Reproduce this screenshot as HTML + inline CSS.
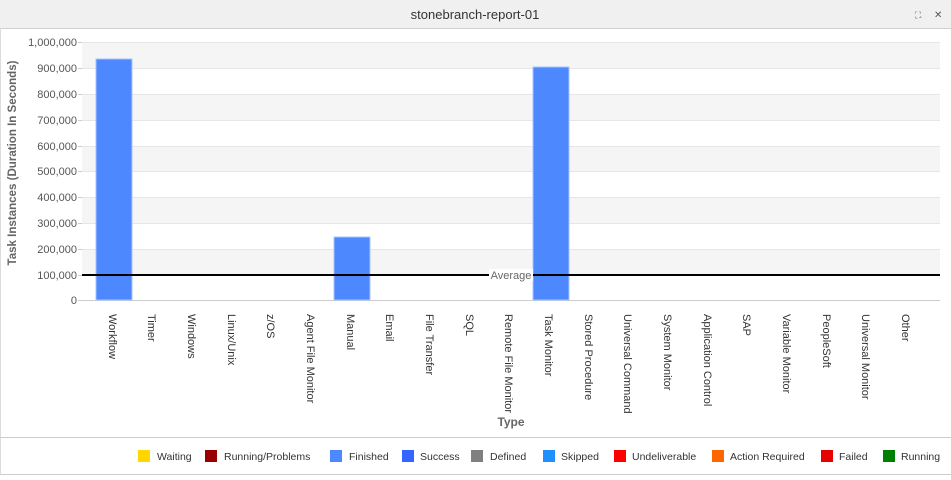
<!DOCTYPE html>
<html><head><meta charset="utf-8"><style>
html,body{margin:0;padding:0;background:#fff;}
body{width:951px;height:475px;overflow:hidden;font-family:"Liberation Sans",sans-serif;}
</style></head><body>
<svg width="951" height="475" xmlns="http://www.w3.org/2000/svg" font-family="Liberation Sans, sans-serif">
<rect x="0" y="0" width="951" height="28" fill="#f0f0f0"/>
<line x1="0" y1="28.5" x2="951" y2="28.5" stroke="#cfcfcf"/>
<line x1="0.5" y1="28" x2="0.5" y2="475" stroke="#dcdcdc"/>
<text x="475" y="19" text-anchor="middle" font-size="13" fill="#333">stonebranch-report-01</text>
<text x="915" y="18" font-size="9" fill="#555">⛶</text>
<text x="934" y="18" font-size="10" fill="#555">✕</text>
<g fill="#f5f5f5">
<rect x="82" y="42" width="858" height="26"/>
<rect x="82" y="94" width="858" height="26"/>
<rect x="82" y="146" width="858" height="25"/>
<rect x="82" y="197" width="858" height="26"/>
<rect x="82" y="249" width="858" height="26"/>
</g>
<g stroke="#e6e6e6">
<line x1="82" y1="42.5" x2="940" y2="42.5"/><line x1="82" y1="68.5" x2="940" y2="68.5"/>
<line x1="82" y1="94.5" x2="940" y2="94.5"/><line x1="82" y1="120.5" x2="940" y2="120.5"/>
<line x1="82" y1="146.5" x2="940" y2="146.5"/><line x1="82" y1="171.5" x2="940" y2="171.5"/>
<line x1="82" y1="197.5" x2="940" y2="197.5"/><line x1="82" y1="223.5" x2="940" y2="223.5"/>
<line x1="82" y1="249.5" x2="940" y2="249.5"/>
</g>
<g stroke="#ccc">
<line x1="78" y1="42.5" x2="82" y2="42.5"/><line x1="78" y1="68.5" x2="82" y2="68.5"/>
<line x1="78" y1="94.5" x2="82" y2="94.5"/><line x1="78" y1="120.5" x2="82" y2="120.5"/>
<line x1="78" y1="146.5" x2="82" y2="146.5"/><line x1="78" y1="171.5" x2="82" y2="171.5"/>
<line x1="78" y1="197.5" x2="82" y2="197.5"/><line x1="78" y1="223.5" x2="82" y2="223.5"/>
<line x1="78" y1="249.5" x2="82" y2="249.5"/><line x1="78" y1="275.5" x2="82" y2="275.5"/>
<line x1="78" y1="300.5" x2="940" y2="300.5"/>
</g>
<g font-size="11" fill="#555" text-anchor="end">
<text x="77" y="46">1,000,000</text><text x="77" y="72">900,000</text>
<text x="77" y="98">800,000</text><text x="77" y="124">700,000</text>
<text x="77" y="150">600,000</text><text x="77" y="175">500,000</text>
<text x="77" y="201">400,000</text><text x="77" y="227">300,000</text>
<text x="77" y="253">200,000</text><text x="77" y="279">100,000</text>
<text x="77" y="304">0</text>
</g>
<text transform="translate(16,163) rotate(-90)" text-anchor="middle" font-size="11.5" font-weight="bold" fill="#666" textLength="205" lengthAdjust="spacingAndGlyphs">Task Instances (Duration In Seconds)</text>
<g fill="#4d88ff" stroke="#a9c4ff" stroke-width="1">
<rect x="96" y="59" width="36" height="241"/>
<rect x="334" y="237" width="36" height="63"/>
<rect x="533" y="67" width="36" height="233"/>
</g>
<line x1="82" y1="275" x2="940" y2="275" stroke="#000" stroke-width="2"/>
<rect x="489" y="269" width="44" height="12" fill="#fff"/>
<text x="511" y="279" text-anchor="middle" font-size="11" fill="#666">Average</text>
<g font-size="11" fill="#333">
<text transform="translate(109,314) rotate(90)">Workflow</text>
<text transform="translate(148,314) rotate(90)">Timer</text>
<text transform="translate(188,314) rotate(90)">Windows</text>
<text transform="translate(228,314) rotate(90)">Linux/Unix</text>
<text transform="translate(267,314) rotate(90)">z/OS</text>
<text transform="translate(307,314) rotate(90)">Agent File Monitor</text>
<text transform="translate(347,314) rotate(90)">Manual</text>
<text transform="translate(386,314) rotate(90)">Email</text>
<text transform="translate(426,314) rotate(90)">File Transfer</text>
<text transform="translate(466,314) rotate(90)">SQL</text>
<text transform="translate(505,314) rotate(90)">Remote File Monitor</text>
<text transform="translate(545,314) rotate(90)">Task Monitor</text>
<text transform="translate(585,314) rotate(90)">Stored Procedure</text>
<text transform="translate(624,314) rotate(90)">Universal Command</text>
<text transform="translate(664,314) rotate(90)">System Monitor</text>
<text transform="translate(704,314) rotate(90)">Application Control</text>
<text transform="translate(743,314) rotate(90)">SAP</text>
<text transform="translate(783,314) rotate(90)">Variable Monitor</text>
<text transform="translate(823,314) rotate(90)">PeopleSoft</text>
<text transform="translate(862,314) rotate(90)">Universal Monitor</text>
<text transform="translate(902,314) rotate(90)">Other</text>
</g>
<text x="511" y="426" text-anchor="middle" font-size="12" font-weight="bold" fill="#666">Type</text>
<line x1="0" y1="437.5" x2="951" y2="437.5" stroke="#ccc"/>
<line x1="0" y1="474.5" x2="951" y2="474.5" stroke="#ccc"/>
<g font-size="10.5" fill="#333">
<rect x="138" y="450" width="12" height="12" fill="#FFD700"/><text x="157" y="460">Waiting</text>
<rect x="205" y="450" width="12" height="12" fill="#990000"/><text x="224" y="460">Running/Problems</text>
<rect x="330" y="450" width="12" height="12" fill="#4d88ff"/><text x="349" y="460">Finished</text>
<rect x="402" y="450" width="12" height="12" fill="#3366ff"/><text x="420" y="460">Success</text>
<rect x="471" y="450" width="12" height="12" fill="#808080"/><text x="490" y="460">Defined</text>
<rect x="543" y="450" width="12" height="12" fill="#1e90ff"/><text x="561" y="460">Skipped</text>
<rect x="614" y="450" width="12" height="12" fill="#ff0000"/><text x="632" y="460">Undeliverable</text>
<rect x="712" y="450" width="12" height="12" fill="#ff6600"/><text x="730" y="460">Action Required</text>
<rect x="821" y="450" width="12" height="12" fill="#e60000"/><text x="839" y="460">Failed</text>
<rect x="883" y="450" width="12" height="12" fill="#008000"/><text x="901" y="460">Running</text>
</g>
</svg>
</body></html>
